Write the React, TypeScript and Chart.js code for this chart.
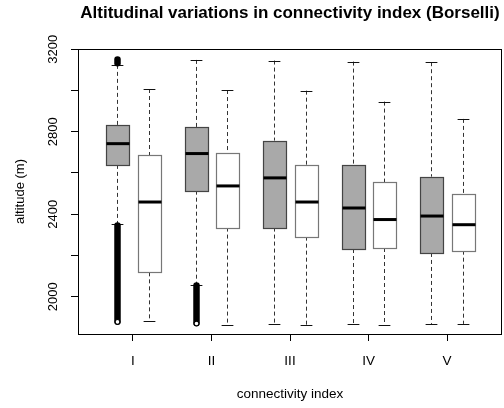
import { useEffect, useRef } from 'react';
import { Chart, registerables } from 'chart.js';

Chart.register(...registerables);

// ---- data ----
const categories = ['I', 'II', 'III', 'IV', 'V'];
const yTickValues = [2000, 2200, 2400, 2600, 2800, 3000, 3200];
const yLabelValues = [2000, 2400, 2800, 3200];

// grey boxes (first of each pair)
const greyLowerWhisker = [2353, 2057, 1868, 1868, 1868];
const greyQ1 = [2639, 2514, 2335, 2231, 2212];
const greyMedian = [2742, 2694, 2576, 2430, 2391];
const greyQ3 = [2831, 2823, 2757, 2639, 2582];
const greyUpperWhisker = [3124, 3148, 3145, 3140, 3137];

// white boxes (second of each pair)
const whiteLowerWhisker = [1881, 1863, 1863, 1863, 1868];
const whiteQ1 = [2118, 2335, 2291, 2236, 2223];
const whiteMedian = [2459, 2537, 2459, 2374, 2349];
const whiteQ3 = [2686, 2699, 2639, 2555, 2498];
const whiteUpperWhisker = [3007, 3002, 2999, 2946, 2862];

// outlier runs of the grey boxes: [category index, lowest, highest]
const greyOutlierRuns: [number, number, number][] = [
  [0, 1880, 2345],
  [0, 3132, 3150],
  [1, 1872, 2054],
];

const FONT = "'Liberation Sans', Arial, sans-serif";

const boxPlugin = {
  id: 'rBoxes',
  afterDatasetsDraw(chart: any) {
    const { ctx, chartArea, scales } = chart;
    const xs = scales.x;
    const ys = scales.y;
    const Y = (v: number) => ys.getPixelForValue(v);
    ctx.save();
    ctx.beginPath();
    ctx.rect(chartArea.left, chartArea.top, chartArea.right - chartArea.left, chartArea.bottom - chartArea.top);
    ctx.clip();

    const drawBox = (pos: number, lo: number, q1: number, med: number, q3: number, hi: number, fill: string, border: string) => {
      const xc = Math.round(xs.getPixelForValue(pos)) + 0.5;
      const hw = xs.getPixelForValue(pos + 0.15) - xs.getPixelForValue(pos);
      const cw = hw / 2;
      // whiskers
      ctx.lineWidth = 1;
      ctx.strokeStyle = '#333';
      ctx.setLineDash([4, 3]);
      ctx.beginPath();
      ctx.moveTo(xc, Y(hi));
      ctx.lineTo(xc, Y(q3));
      ctx.moveTo(xc, Y(q1));
      ctx.lineTo(xc, Y(lo));
      ctx.stroke();
      ctx.setLineDash([]);
      // caps
      ctx.strokeStyle = '#111';
      ctx.beginPath();
      ctx.moveTo(xc - cw, Math.round(Y(hi)) + 0.5);
      ctx.lineTo(xc + cw, Math.round(Y(hi)) + 0.5);
      ctx.moveTo(xc - cw, Math.round(Y(lo)) + 0.5);
      ctx.lineTo(xc + cw, Math.round(Y(lo)) + 0.5);
      ctx.stroke();
      // box
      const l = Math.round(xc - hw) + 0.5;
      const r = Math.round(xc + hw) + 0.5;
      const t = Math.round(Y(q3)) + 0.5;
      const b = Math.round(Y(q1)) + 0.5;
      ctx.fillStyle = fill;
      ctx.fillRect(l, t, r - l, b - t);
      ctx.strokeStyle = border;
      ctx.lineWidth = 1.2;
      ctx.strokeRect(l, t, r - l, b - t);
      // median
      ctx.strokeStyle = '#000';
      ctx.lineWidth = 3;
      ctx.beginPath();
      ctx.moveTo(l, Y(med));
      ctx.lineTo(r, Y(med));
      ctx.stroke();
    };

    categories.forEach((_, i) => {
      drawBox(i + 1 - 0.2, greyLowerWhisker[i], greyQ1[i], greyMedian[i], greyQ3[i], greyUpperWhisker[i], '#a9a9a9', '#444');
      drawBox(i + 1 + 0.2, whiteLowerWhisker[i], whiteQ1[i], whiteMedian[i], whiteQ3[i], whiteUpperWhisker[i], '#ffffff', '#777');
    });

    // outliers (dense open circles form solid runs)
    greyOutlierRuns.forEach(([ci, lo, hi]) => {
      const xc = Math.round(xs.getPixelForValue(ci + 1 - 0.2)) + 0.5;
      ctx.strokeStyle = '#000';
      ctx.lineWidth = 6.5;
      ctx.lineCap = 'round';
      ctx.beginPath();
      ctx.moveTo(xc, Y(lo));
      ctx.lineTo(xc, Y(hi));
      ctx.stroke();
      ctx.lineCap = 'butt';
      // lowest circle of a run below the whisker shows its open centre
      if (lo < greyLowerWhisker[ci]) {
        ctx.lineWidth = 1.2;
        ctx.fillStyle = '#fff';
        ctx.beginPath();
        ctx.arc(xc, Y(lo) + 0.5, 2.4, 0, Math.PI * 2);
        ctx.fill();
        ctx.stroke();
      }
    });

    ctx.restore();

    // frame
    ctx.save();
    ctx.strokeStyle = '#000';
    ctx.lineWidth = 1;
    ctx.strokeRect(Math.round(chartArea.left) + 0.5, Math.round(chartArea.top) + 0.5,
      Math.round(chartArea.right - chartArea.left) - 1, Math.round(chartArea.bottom - chartArea.top));
    ctx.restore();
  },
};

export default function App() {
  const canvasRef = useRef<HTMLCanvasElement | null>(null);

  useEffect(() => {
    document.body.style.margin = '0';
    const canvas = canvasRef.current;
    if (!canvas) return;
    const chart = new Chart(canvas, {
      type: 'scatter',
      data: {
        datasets: [
          {
            data: categories.map((_, i) => ({ x: i + 1, y: greyMedian[i] })),
            pointRadius: 0,
            showLine: false,
          },
        ],
      },
      options: {
        animation: false,
        responsive: false,
        devicePixelRatio: 1,
        events: [],
        layout: { padding: { left: 0, right: 2, top: 0, bottom: 0 } },
        plugins: {
          legend: { display: false },
          tooltip: { enabled: false },
          title: {
            display: true,
            fullSize: false,
            text: 'Altitudinal variations in connectivity index (Borselli)',
            color: '#000',
            font: { family: FONT, size: 17, weight: 'bold' },
            padding: { top: 3, bottom: 25.6 },
          },
        },
        scales: {
          x: {
            type: 'linear',
            min: 0.3,
            max: 5.7,
            border: { display: false },
            grid: { drawOnChartArea: false, drawTicks: true, tickLength: 7, color: '#000', tickColor: '#000' },
            afterBuildTicks: (s: any) => {
              s.ticks = categories.map((_, i) => ({ value: i + 1 }));
            },
            afterFit: (s: any) => {
              s.height = 74;
            },
            ticks: {
              autoSkip: false,
              maxRotation: 0,
              minRotation: 0,
              padding: 12,
              color: '#000',
              font: { family: FONT, size: 13.5 },
              callback: (v: any) => categories[Number(v) - 1] ?? '',
            },
            title: {
              display: true,
              text: 'connectivity index',
              color: '#000',
              font: { family: FONT, size: 13.5 },
              padding: { top: 0, bottom: 5.5 },
            },
          },
          y: {
            type: 'linear',
            min: 1819,
            max: 3201,
            border: { display: false },
            grid: { drawOnChartArea: false, drawTicks: true, tickLength: 7, color: '#000', tickColor: '#000' },
            afterBuildTicks: (s: any) => {
              s.ticks = yTickValues.map((v) => ({ value: v }));
            },
            afterFit: (s: any) => {
              s.width = 78;
            },
            ticks: {
              autoSkip: false,
              minRotation: 90,
              maxRotation: 90,
              crossAlign: 'center',
              padding: 3,
              color: '#000',
              font: { family: FONT, size: 13 },
              callback: (v: any) => (yLabelValues.includes(Number(v)) ? String(v) : ''),
            },
            title: {
              display: true,
              text: 'altitude (m)',
              color: '#000',
              font: { family: FONT, size: 13 },
              padding: { top: 12.2, bottom: 0 },
            },
          },
        },
      },
      plugins: [boxPlugin],
    } as any);
    return () => chart.destroy();
  }, []);

  return (
    <div style={{ width: 504, height: 408, background: '#fff' }}>
      <canvas ref={canvasRef} width={504} height={408} style={{ display: 'block' }} />
    </div>
  );
}
